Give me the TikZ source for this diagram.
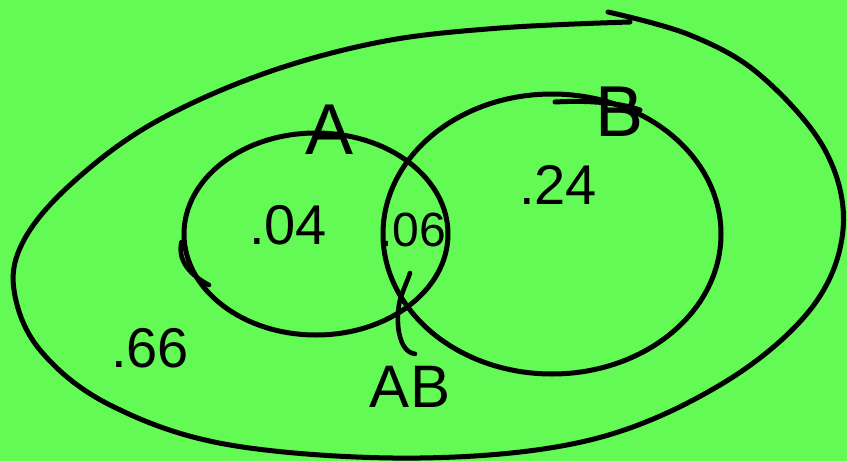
\documentclass[tikz,border=0pt]{standalone}
\usepackage{fontspec}
\setmainfont{Liberation Sans}
\usetikzlibrary{shapes.geometric,positioning}
\definecolor{boardgreen}{RGB}{100,250,85}

\begin{document}
\begin{tikzpicture}[
    x=1pt, y=-1pt,
    line width=5pt, line cap=round, line join=round,
    % --- node styles ---
    setring/.style = {ellipse, draw=black, line width=5pt, inner sep=0pt},
    prob/.style    = {font=\fontsize{56}{60}\selectfont, inner sep=0pt},
    setlbl/.style  = {font=\fontsize{72}{76}\selectfont, inner sep=0pt},
    pointer/.style = {draw=black, line width=4.6pt},
]

%============ BOARD ============
\useasboundingbox (0,0) rectangle (847,461);
\fill[boardgreen] (0,0) rectangle (847,461);

%============ UNIVERSE (hand-drawn loop) ============
\draw plot[smooth, tension=0.6] coordinates {
  (630,22) (500,28) (380,42) (260,75) (150,125) (70,185) (24,240)
  (14,290) (40,350) (110,405) (230,445) (420,458) (590,440)
  (720,385) (810,310) (843,230) (825,150) (760,75) (690,35) (608,12)};

%============ SETS ============
\node (setA) [setring, minimum width=264pt, minimum height=202pt] at (316,234) {};
\node (setB) [setring, minimum width=338pt, minimum height=280pt] at (552,234) {};

% overlap stroke at top of B
\draw (555,102) .. controls (590,100) and (620,103) .. (640,110);

%============ LABELS ============
\node (lblA)  [setlbl] at (330,130) {A};
\node (lblB)  [setlbl] at (620,112) {B};
\node (lblAB) [setlbl, font=\fontsize{60}{64}\selectfont] at (410,387) {AB};

%============ PROBABILITIES ============
\node (pA)    [prob] at (288,225) {.04};
\node (pAB)   [prob, font=\fontsize{48}{52}\selectfont] at (413,230) {.06};
\node (pB)    [prob] at (558,185) {.24};
\node (pNone) [prob] at (150,348) {.66};

%============ POINTERS ============
\coordinate (abtip) at (410,273);

% pointer from AB up into the overlap
\draw[pointer] ([xshift=5pt,yshift=10pt]lblAB.north)
  .. controls (398,352) and (395,320) .. (400,300)
  .. controls (403,290) and (407,282) .. (abtip);

% hook on the left of A
\draw[pointer] ([yshift=-8pt]setA.west)
  .. controls (177,262) and (192,276) .. (209,285);

\end{tikzpicture}
\end{document}
